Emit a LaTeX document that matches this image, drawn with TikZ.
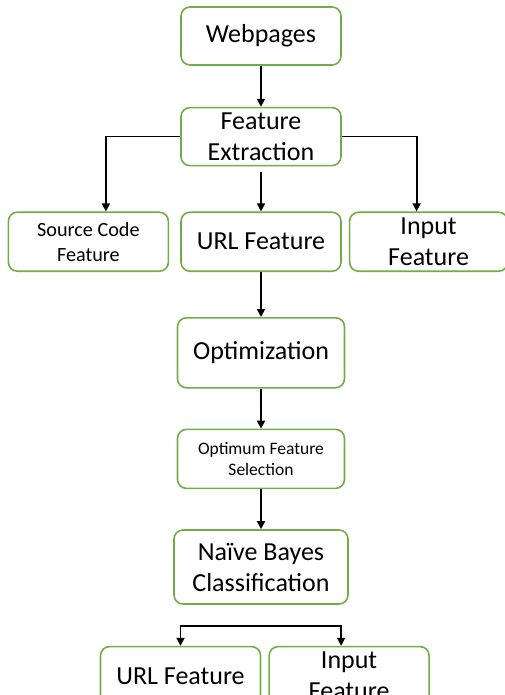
\documentclass[tikz,border=0pt]{standalone}
\usepackage{fontspec}
\setmainfont{Carlito}
\usetikzlibrary{arrows.meta,positioning}
\definecolor{boxgreen}{HTML}{70AD47}

\begin{document}
\begin{tikzpicture}[
  node distance=40pt and 10pt,
  box/.style={draw=boxgreen, line width=1.6pt, rounded corners=9pt, align=center,
              minimum width=160pt, minimum height=58pt, inner sep=1pt,
              font=\fontsize{26}{31}\selectfont},
  arr/.style={-{Triangle[length=8pt,width=8pt]}, line width=1.8pt}
]
\useasboundingbox (0,0) rectangle (505pt,-695pt);

\node[box] (web) at (261pt,-36pt) {Webpages};
\node[box] (fe)   [below=41pt of web] {Feature\\ Extraction};
\node[box, minimum height=59pt] (url)  [below=45pt of fe] {URL Feature};
\node[box, minimum height=59pt, font=\fontsize{20.2}{25}\selectfont]
      (src)  [left=11pt of url] {Source Code\\ Feature};
\node[box, minimum height=59pt, minimum width=158pt]
      (inp)  [right=7pt of url] {Input\\ Feature};
\node[box, minimum width=167pt, minimum height=70pt] (opt) [below=45pt of url] {Optimization};
\node[box, minimum width=167pt, minimum height=59pt, font=\fontsize{17.5}{21}\selectfont]
      (ofs)  [below=40pt of opt] {Optimum Feature\\ Selection};
\node[box, minimum width=174pt, minimum height=74pt] (nbc) [below=40pt of ofs] {Naïve Bayes\\ Classification};
\node[box, minimum height=59pt] (url2) [below=41pt of nbc, xshift=-80.5pt] {URL Feature};
\node[box, minimum height=59pt] (inp2) [right=7pt of url2] {Input\\ Feature};

\coordinate (split) at ([yshift=-21pt]nbc.south);

\draw[arr] (web) -- (fe);
\draw[arr] (fe.west) -| ([xshift=17.5pt]src.north);
\draw[arr, shorten <=6pt] (fe) -- (url);
\draw[arr] (fe.east) -| ([xshift=-12pt]inp.north);
\draw[arr] (url) -- (opt);
\draw[arr] (opt) -- (ofs);
\draw[arr] (ofs) -- (nbc);
\draw[double, double distance=1.2pt, line width=0.8pt] (nbc.south) -- (split);
\draw[arr] (split) -| (url2.north);
\draw[arr] (split) -| ([xshift=-8pt]inp2.north);
\end{tikzpicture}
\end{document}
